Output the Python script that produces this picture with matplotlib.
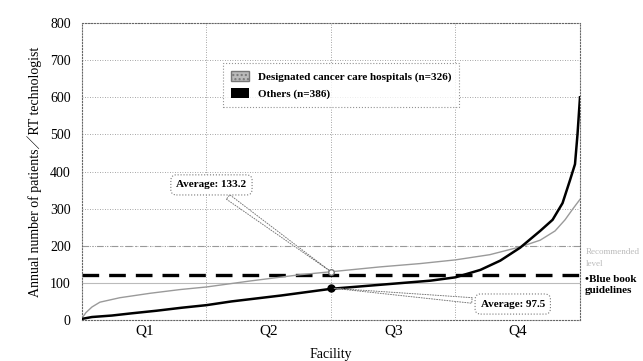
import matplotlib

matplotlib.use("Agg")
import matplotlib.pyplot as plt  # noqa: E402
from matplotlib.patches import Patch  # noqa: E402

# sorted facility curves: fraction of facilities (0..1) vs annual patients / RT technologist
DESIG_X = [0, 0.008, 0.02, 0.036, 0.076, 0.137, 0.197, 0.25, 0.337, 0.438, 0.5, 0.598, 0.679,
           0.75, 0.819, 0.88, 0.92, 0.95, 0.97, 0.986, 1.0]
DESIG_Y = [5, 20, 35, 48, 60, 72, 82, 89, 105, 122, 130, 143, 152, 162, 176, 197, 215, 240, 270,
           300, 325]
OTHER_X = [0, 0.02, 0.06, 0.1, 0.15, 0.2, 0.25, 0.3, 0.4, 0.5, 0.6, 0.7, 0.75, 0.8, 0.84, 0.88,
           0.92, 0.945, 0.965, 0.98, 0.99, 0.995, 1.0]
OTHER_Y = [3, 8, 12, 18, 25, 33, 40, 50, 66, 84, 95, 106, 115, 135, 160, 195, 240, 270, 315, 377,
           420, 500, 600]
QUARTERS = ["Q1", "Q2", "Q3", "Q4"]
BLUE_BOOK = 120
RECOMMENDED = 200
AVG_DESIG = 133.2
AVG_OTHER = 97.5
MED_DESIG = 130
MED_OTHER = 86

SERIF = ["Liberation Serif", "Noto Sans CJK JP", "DejaVu Serif"]
plt.rcParams["font.family"] = SERIF

fig = plt.figure(figsize=(6.43, 3.61), dpi=100)
ax = fig.add_axes([0.1275, 0.1136, 0.7745, 0.8224])

for y in range(100, 900, 100):
    ax.axhline(y, color="#888", lw=0.6, ls=(0, (1, 2)), zorder=0)
for q in (0.25, 0.5, 0.75):
    ax.axvline(q, color="#888", lw=0.6, ls=(0, (1, 2)), zorder=0)
ax.axhline(100, color="#bbb", lw=0.8, zorder=1)
ax.axhline(RECOMMENDED, color="#999", lw=0.8, ls=(0, (6, 3, 1, 3)), zorder=1)
ax.axhline(BLUE_BOOK, color="black", lw=2.4, ls=(0, (5, 3)), zorder=2)

ax.plot(DESIG_X, DESIG_Y, color="#9a9a9a", lw=1.0, zorder=3)
ax.plot(OTHER_X, OTHER_Y, color="black", lw=1.8, zorder=4)
ax.plot([0.5], [MED_DESIG], marker="o", ms=4, mfc="white", mec="#777", zorder=5)
ax.plot([0.5], [MED_OTHER], marker="o", ms=5, color="black", zorder=5)

box = dict(boxstyle="round,pad=0.5", fc="white", ec="#777", lw=0.8, ls=":")
wedge = dict(arrowstyle="wedge,tail_width=0.5", fc="white", ec="#777", lw=0.7, ls=":")
ax.annotate(f"Average: {AVG_DESIG}", xy=(0.5, MED_DESIG), xytext=(0.26, 364),
            ha="center", va="center", fontsize=8, fontweight="bold", bbox=box,
            arrowprops=wedge, zorder=6)
ax.annotate(f"Average: {AVG_OTHER}", xy=(0.5, MED_OTHER), xytext=(0.865, 43),
            ha="center", va="center", fontsize=8, fontweight="bold", bbox=box,
            arrowprops=wedge, zorder=6)

ax.set_xlim(0, 1)
ax.set_ylim(0, 800)
ax.set_xticks([])
ax.set_yticks(range(0, 900, 100))
ax.tick_params(axis="y", length=0, labelsize=10, pad=8)
for s in ax.spines.values():
    s.set_linestyle(":")
    s.set_color("#666")
    s.set_linewidth(0.8)
for i, q in enumerate(QUARTERS):
    ax.text(0.125 + 0.25 * i, -12, q, ha="center", va="top", fontsize=11)
ax.set_xlabel("Facility", fontsize=10, labelpad=20)
ax.set_ylabel("Annual number of patients／RT technologist", fontsize=10, labelpad=6)

ax.text(1.012, RECOMMENDED - 6, "Recommended\nlevel", transform=ax.get_yaxis_transform(),
        ha="left", va="top", fontsize=6.5, color="#bbb", linespacing=1.6)
ax.text(1.01, BLUE_BOOK, "•Blue book\nguidelines", transform=ax.get_yaxis_transform(),
        ha="left", va="top", fontsize=8, fontweight="bold", linespacing=1.2)

leg = ax.legend(handles=[Patch(facecolor="#bbb", edgecolor="#777", hatch="....",
                               label="Designated cancer care hospitals (n=326)"),
                         Patch(facecolor="black", label="Others (n=386)")],
                loc="upper left", bbox_to_anchor=(0.273, 0.885),
                prop={"weight": "bold", "size": 8}, frameon=True, fancybox=False,
                handlelength=1.6, handleheight=1.0, borderpad=0.7, labelspacing=0.6)
leg.get_frame().set_edgecolor("#777")
leg.get_frame().set_linestyle(":")
leg.get_frame().set_linewidth(0.8)

fig.savefig("out.png", dpi=100)
